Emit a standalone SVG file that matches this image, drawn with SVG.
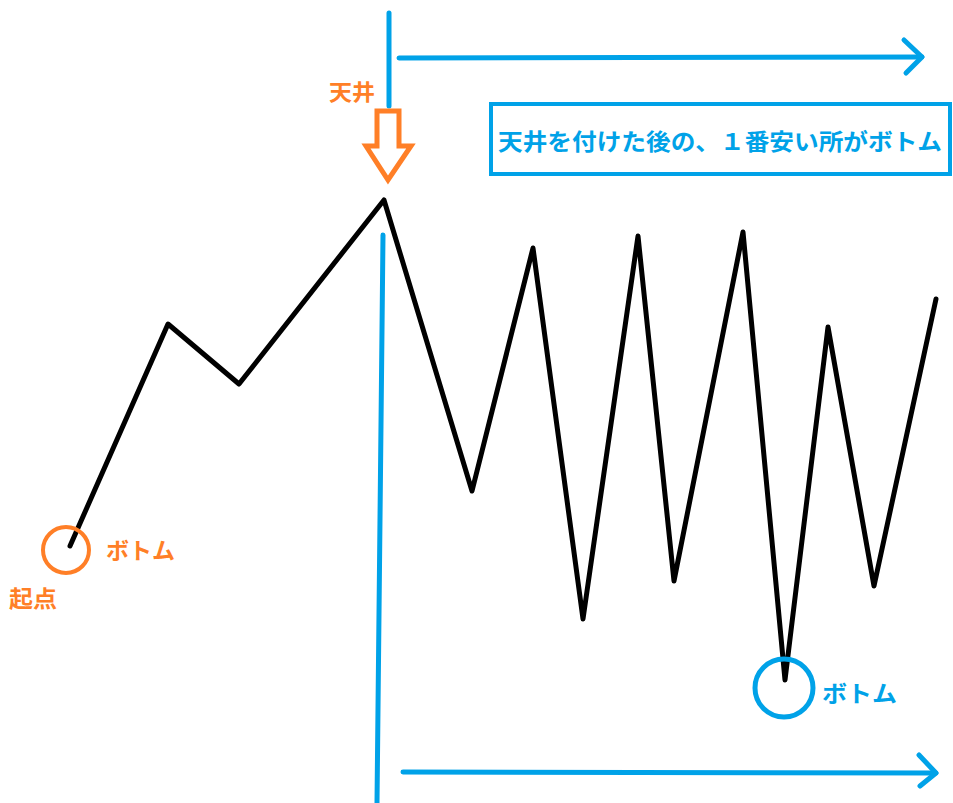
<svg xmlns="http://www.w3.org/2000/svg" width="953" height="803" viewBox="0 0 953 803">
<style>
.blue{stroke:#00A2E8;stroke-width:5;fill:none;stroke-linecap:round;stroke-linejoin:round}
.orange{stroke:#FF7F27;stroke-width:4;fill:none}
.price{stroke:#000;stroke-width:5;fill:none;stroke-linejoin:round;stroke-linecap:round}
.t{font-family:"Noto Sans CJK JP","Noto Sans CJK SC",sans-serif;font-weight:bold}
.to{fill:#FF7F27}
.tb{fill:#00A2E8}
</style>
<rect width="953" height="803" fill="#fff"/>
<g id="connectors">
<polyline class="price" points="70,546 168,324 239,384 384,200 472,491 533,248 583,619 638,236 674,581 743,232 785,680 828,327 874,586 936,299"/>
<line class="blue" x1="389" y1="13" x2="389" y2="106"/>
<line class="blue" x1="383" y1="235" x2="377" y2="803"/>
<line class="blue" x1="399" y1="58" x2="922" y2="57"/>
<polyline class="blue" points="904,40 922,57 906,73"/>
<line class="blue" x1="403" y1="772" x2="936" y2="773"/>
<polyline class="blue" points="919,755 936,773 920,786"/>
</g>
<g id="ceiling-arrow">
<path d="M377,111 H399 V146 H411 L388,180 L366,146 H377 Z" fill="#fff" stroke="#FF7F27" stroke-width="5" stroke-linejoin="miter"/>
<text class="t to" x="329" y="100" font-size="22" font-weight="normal" textLength="46" lengthAdjust="spacingAndGlyphs">天井</text>
</g>
<g id="start-bottom">
<circle class="orange" cx="66" cy="550" r="23"/>
<text class="t to" x="106" y="559" font-size="23" textLength="69" lengthAdjust="spacingAndGlyphs">ボトム</text>
<text class="t to" x="9" y="607" font-size="23" textLength="48" lengthAdjust="spacingAndGlyphs">起点</text>
</g>
<g id="bottom">
<circle class="blue" cx="784" cy="688" r="29" stroke-width="4"/>
<text class="t tb" x="822" y="702" font-size="23" textLength="75" lengthAdjust="spacingAndGlyphs">ボトム</text>
</g>
<g id="note">
<rect x="491" y="104" width="459" height="70" fill="#fff" stroke="#00A2E8" stroke-width="4"/>
<text class="t tb" x="498" y="150" font-size="23" textLength="444" lengthAdjust="spacingAndGlyphs">天井を付けた後の、１番安い所がボトム</text>
</g>
</svg>
